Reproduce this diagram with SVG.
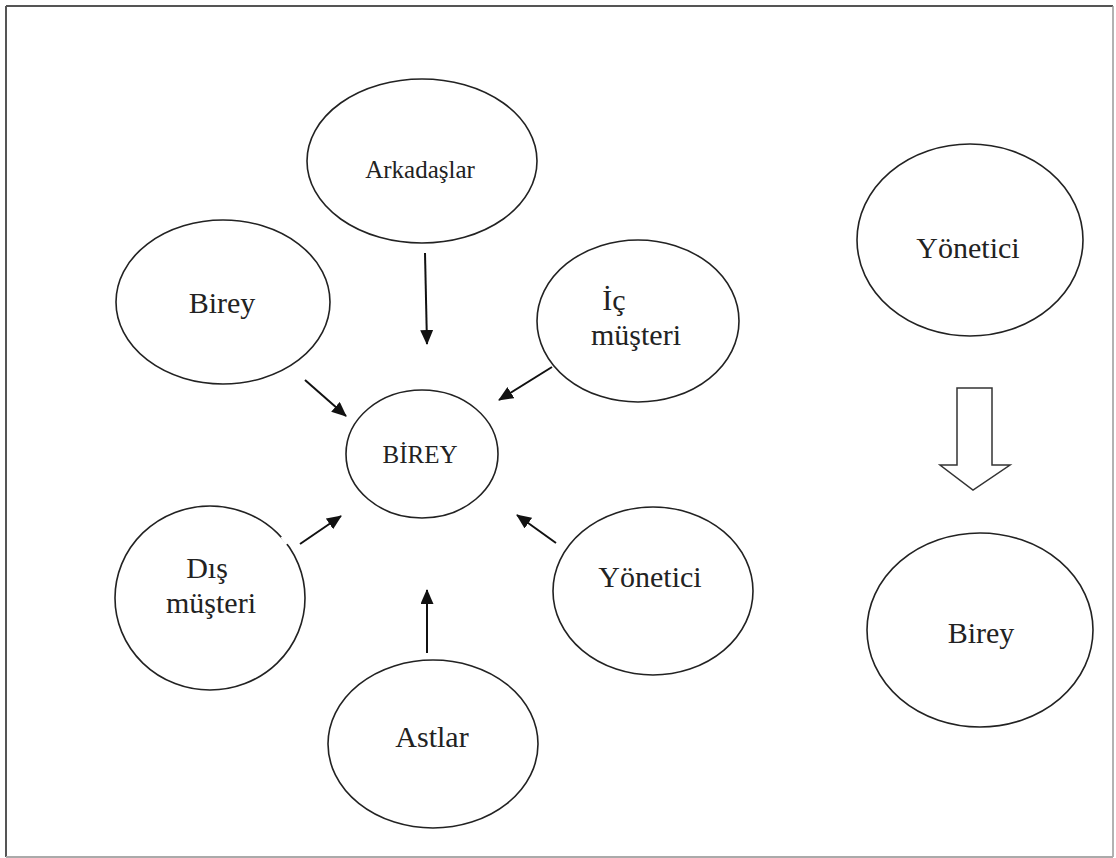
<svg xmlns="http://www.w3.org/2000/svg" width="1116" height="858" viewBox="0 0 1116 858">
  <defs>
    <marker id="head" viewBox="0 0 15 13" refX="14" refY="6.5" markerWidth="15" markerHeight="13" markerUnits="userSpaceOnUse" orient="auto">
      <path d="M0,0 L15,6.5 L0,13 Z" fill="#111"/>
    </marker>
  </defs>
  <style>
    .node ellipse { fill: #fff; stroke: #222; stroke-width: 1.6; }
    .node text { font-family: "Liberation Serif", "Times New Roman", serif; fill: #222; text-anchor: middle; font-size: 30px; }
    .conn line { stroke: #111; stroke-width: 2; marker-end: url(#head); }
  </style>
  <rect width="1116" height="858" fill="#fff"/>

  <!-- frame -->
  <g id="frame" fill="none">
    <line x1="6" y1="6" x2="1113" y2="6" stroke="#555" stroke-width="2"/>
    <line x1="6" y1="6" x2="6" y2="857" stroke="#555" stroke-width="2"/>
    <line x1="1113" y1="6" x2="1113" y2="857" stroke="#999" stroke-width="1.5"/>
    <line x1="6" y1="857" x2="1113" y2="857" stroke="#aaa" stroke-width="2"/>
  </g>

  <!-- influence sources around the individual -->
  <g id="arkadaslar" class="node">
    <ellipse cx="422" cy="161" rx="115" ry="82"/>
    <text x="420" y="178" style="font-size:25px">Arkadaşlar</text>
  </g>
  <g id="birey-sol" class="node">
    <ellipse cx="223" cy="302" rx="107" ry="82"/>
    <text x="222" y="313">Birey</text>
  </g>
  <g id="ic-musteri" class="node">
    <ellipse cx="638" cy="321" rx="101" ry="81"/>
    <text x="614" y="310">İç</text>
    <text x="636" y="345">müşteri</text>
  </g>
  <g id="birey-merkez" class="node">
    <ellipse cx="422" cy="454" rx="76" ry="64"/>
    <text x="420" y="463" style="font-size:25px">BİREY</text>
  </g>
  <g id="dis-musteri" class="node">
    <ellipse cx="210" cy="598" rx="95" ry="92"/>
    <text x="207" y="578">Dış</text>
    <text x="211" y="613">müşteri</text>
  </g>
  <g id="yonetici-sol" class="node">
    <ellipse cx="653" cy="591" rx="100" ry="84"/>
    <text x="650" y="587">Yönetici</text>
  </g>
  <g id="astlar" class="node">
    <ellipse cx="433" cy="744" rx="105" ry="84"/>
    <text x="432" y="747">Astlar</text>
  </g>

  <!-- top-down relation on the right -->
  <g id="yonetici-sag" class="node">
    <ellipse cx="970" cy="240" rx="113" ry="96"/>
    <text x="968" y="258">Yönetici</text>
  </g>
  <g id="birey-sag" class="node">
    <ellipse cx="980" cy="630" rx="113" ry="97"/>
    <text x="981" y="643">Birey</text>
  </g>

  <!-- small break in the outline where the arrow leaves -->
  <rect x="282" y="534" width="10" height="9" fill="#fff" transform="rotate(-35 287 538)"/>

  <g id="connectors" class="conn">
    <line x1="425" y1="253" x2="427" y2="344"/>
    <line x1="305" y1="380" x2="346" y2="416"/>
    <line x1="552" y1="367" x2="499" y2="400"/>
    <line x1="300" y1="544" x2="341" y2="516"/>
    <line x1="556" y1="543" x2="517" y2="515"/>
    <line x1="427" y1="653" x2="427" y2="590"/>
    <path d="M957,388 L992,388 L992,465 L1010,465 L973,490 L940,465 L957,465 Z" fill="#fff" stroke="#333" stroke-width="1.5" stroke-linejoin="miter"/>
  </g>
</svg>
